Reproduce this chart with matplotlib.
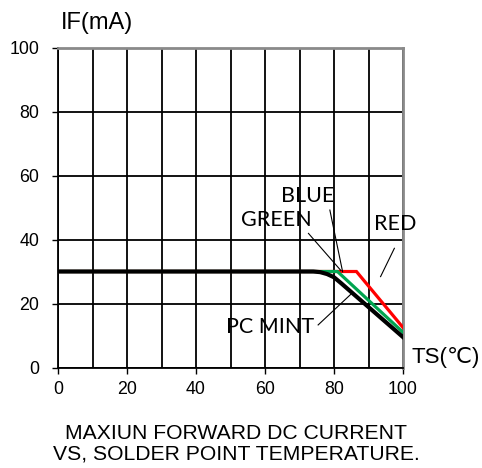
import matplotlib
matplotlib.use("Agg")
import matplotlib.pyplot as plt
from matplotlib.ticker import MultipleLocator

# ---- data ----
black_x = [0, 74, 76, 78, 80, 82, 100]
black_y = [30, 30, 29.8, 29.2, 28.2, 26.4, 9.5]
green_x = [0, 81, 100]
green_y = [30, 30, 11]
red_x = [0, 86.5, 100]
red_y = [30, 30, 12.5]
xticks = [0, 20, 40, 60, 80, 100]
yticks = [0, 20, 40, 60, 80, 100]
labels = ["BLUE", "GREEN", "RED", "PC MINT"]

W, H = 482, 468
fig = plt.figure(figsize=(W / 100, H / 100), dpi=100)
ax = fig.add_axes([58 / W, (H - 367.5) / H, (403 - 58) / W, (367.5 - 47.5) / H])
ax.set_xlim(0, 100)
ax.set_ylim(0, 100)

# grid
ax.xaxis.set_major_locator(plt.FixedLocator(xticks))
ax.xaxis.set_minor_locator(MultipleLocator(10))
ax.yaxis.set_major_locator(plt.FixedLocator(yticks))
ax.grid(which="both", axis="x", color="black", linewidth=1.3)
ax.grid(which="major", axis="y", color="black", linewidth=1.3)
ax.set_axisbelow(True)

for s in ["left", "bottom"]:
    ax.spines[s].set_color("black")
    ax.spines[s].set_linewidth(1.3)
for s in ["top", "right"]:
    ax.spines[s].set_color("#8a8a8a")
    ax.spines[s].set_linewidth(2.0)

ax.tick_params(which="major", axis="x", length=4, width=1.0, pad=5.5,
               labelsize=12.8, color="black")
ax.tick_params(which="major", axis="y", length=4.5, width=1.0, pad=9,
               labelsize=12.8, color="black")
ax.tick_params(which="minor", length=0)
for lab in ax.get_xticklabels() + ax.get_yticklabels():
    lab.set_fontfamily("Liberation Sans")

# curves
ax.plot(red_x, red_y, color="#ff0000", linewidth=2.3, zorder=3,
        solid_joinstyle="miter")
ax.plot(green_x, green_y, color="#00a550", linewidth=2.3, zorder=4,
        solid_joinstyle="miter")
ax.plot(black_x, black_y, color="black", linewidth=3.0, zorder=5,
        solid_joinstyle="round")

# annotations
afont = dict(family="Lato", fontsize=15.5, color="black",
             ha="center", va="center", clip_on=False)
ax.text(72.3, 53.6, labels[0], **afont)
ax.text(63.4, 46.1, labels[1], **afont)
ax.text(97.6, 44.8, labels[2], **afont)
ax.text(61.6, 12.7, labels[3], **afont)

lk = dict(color="black", linewidth=0.8, zorder=6, clip_on=False)
ax.plot([78.8, 82.5], [49.2, 29.9], **lk)
ax.plot([72.6, 82.0], [41.9, 30.3], **lk)
ax.plot([97.5, 93.5], [37.25, 28.4], **lk)
ax.plot([75.4, 84.8], [13.3, 22.8], **lk)

ax.text(112.3, 3.1, "TS(℃)", family=["Liberation Sans", "DejaVu Sans"],
        fontsize=16, ha="center", va="center", clip_on=False)
ax.text(11.4, 107.6, "IF(mA)", family="Liberation Sans", fontsize=17,
        ha="center", va="center", clip_on=False)

fig.text(236 / W, (H - 439) / H, "MAXIUN FORWARD DC CURRENT",
         family="Liberation Sans", fontsize=15.2, ha="center", va="baseline")
fig.text(236 / W, (H - 460) / H, "VS, SOLDER POINT TEMPERATURE.",
         family="Liberation Sans", fontsize=15.2, ha="center", va="baseline")

fig.savefig("out.png", dpi=100)
